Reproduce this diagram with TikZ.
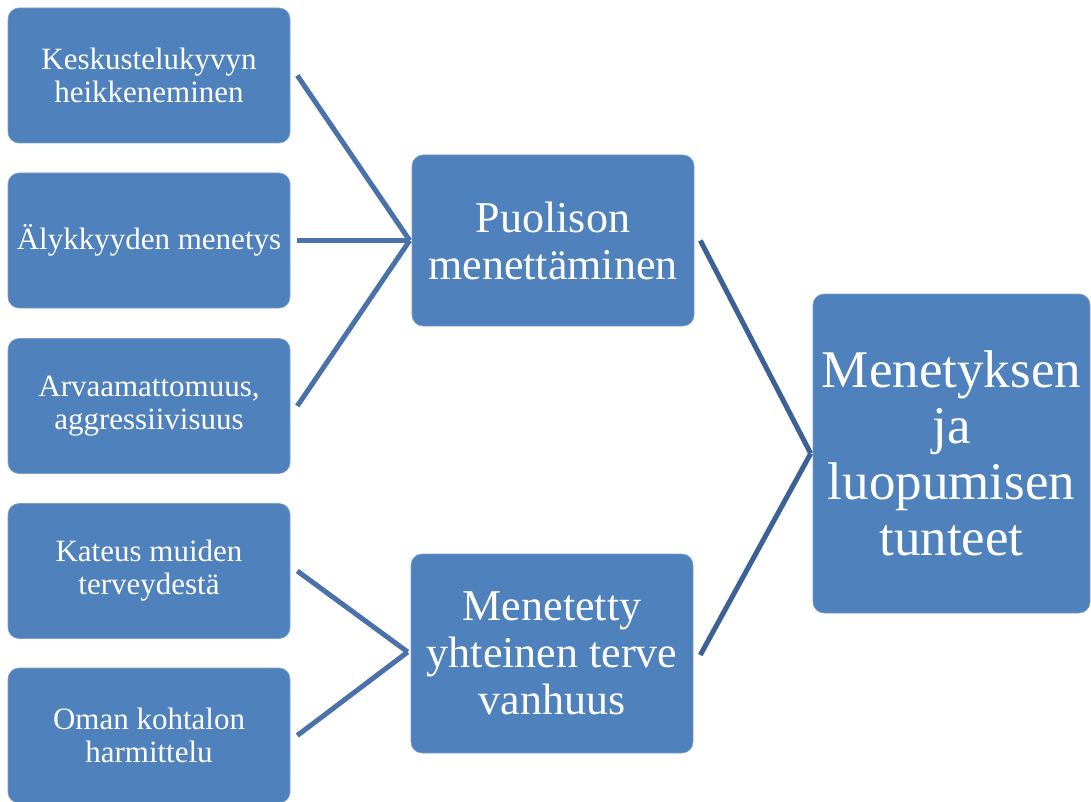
\documentclass[tikz,border=0pt]{standalone}
\usepackage{fontspec}
\setmainfont{Liberation Serif}
\definecolor{boxblue}{HTML}{4F81BD}
\definecolor{boxedge}{HTML}{7FA0CC}
\definecolor{linkblue}{HTML}{4A72AA}
\definecolor{linkdark}{HTML}{3C6194}
\begin{document}
\begin{tikzpicture}[x=1pt,y=-1pt,
  card/.style={fill=boxblue, draw=boxedge, line width=0.6pt, rounded corners=11pt,
    text=white, align=center, inner sep=0pt},
  smallcard/.style={card, minimum width=282pt, minimum height=135pt,
    font=\fontsize{31}{33}\selectfont},
  midcard/.style={card, minimum width=282pt, font=\fontsize{44}{47}\selectfont},
  bigcard/.style={card, minimum width=277pt, minimum height=319pt,
    font=\fontsize{53}{56}\selectfont},
  link/.style={draw=linkblue, line width=5pt},
  linkb/.style={draw=linkdark, line width=5pt}]
\useasboundingbox (0,0) rectangle (1091,802);

% causes on the left
\node[smallcard] (k1) at (149,75.5) {Keskustelukyvyn\\heikkeneminen};
\node[smallcard] (k2) at (149,240.5) {Älykkyyden menetys};
\node[smallcard] (k3) at (149,406) {Arvaamattomuus,\\aggressiivisuus};
\node[smallcard] (k4) at (149,571) {Kateus muiden\\terveydestä};
\node[smallcard] (k5) at (149,735.5) {Oman kohtalon\\harmittelu};

% intermediate losses
\node[midcard, minimum height=171pt] (p1) at (553,240.5) {Puolison\\menettäminen};
\node[midcard, minimum height=199pt] (p2) at (552,653.5) {Menetetty\\yhteinen terve\\vanhuus};

% outcome
\node[bigcard] (r) at (951.5,453.5) {Menetyksen\\ja\\luopumisen\\tunteet};

% connectors into the first loss
\coordinate (j1) at ([xshift=-2pt]p1.west);
\draw[link] ([xshift=7pt]k1.east) -- (j1);
\draw[link] ([xshift=7pt]k2.east) -- (j1);
\draw[link] ([xshift=7pt]k3.east) -- (j1);

% connectors into the second loss
\coordinate (j2) at ([xshift=-3pt,yshift=1.5pt]p2.west);
\draw[link] ([xshift=7pt]k4.east) -- (j2);
\draw[link] ([xshift=7pt]k5.east) -- (j2);

% connectors into the outcome
\coordinate (j3) at ([xshift=-2pt]r.west);
\draw[linkb] ([xshift=6pt]p1.east) -- (j3);
\draw[linkb] ([xshift=7pt,yshift=-1.5pt]p2.east) -- (j3);
\end{tikzpicture}
\end{document}
